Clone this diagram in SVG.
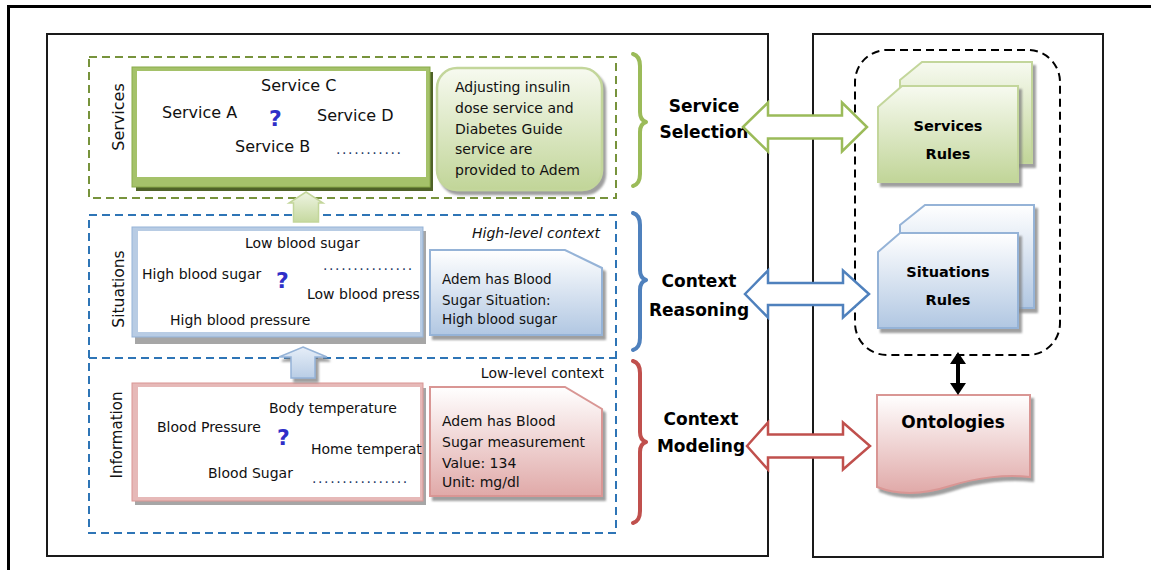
<svg xmlns="http://www.w3.org/2000/svg" width="1151" height="570" viewBox="0 0 1151 570">
<style>
.t{font-family:"DejaVu Sans",Verdana,sans-serif;fill:#111}
.s16{font-size:16px}
.s14{font-size:14px}
.s13{font-size:13.5px}
.b{font-family:"DejaVu Sans",Verdana,sans-serif;font-weight:bold;fill:#000}
.q{font-family:"DejaVu Sans",Verdana,sans-serif;font-weight:bold;font-size:22px;fill:#2f2fc8}
.dots{font-family:"DejaVu Sans",sans-serif;font-size:14px;fill:#1f3864;letter-spacing:1.6px}
.gd{fill:none;stroke:#77933c;stroke-width:2;stroke-dasharray:8 5}
.bd{fill:none;stroke:#2e75b6;stroke-width:2;stroke-dasharray:8 5}
.panel{fill:none;stroke:#1a1a1a;stroke-width:2}
.brace{fill:none;stroke-width:4;stroke-linecap:round;stroke-linejoin:round}
</style>
<defs>
<linearGradient id="gG" x1="0" y1="0" x2="0" y2="1"><stop offset="0" stop-color="#f7faf0"/><stop offset="1" stop-color="#c1d598"/></linearGradient>
<linearGradient id="gB" x1="0" y1="0" x2="0" y2="1"><stop offset="0" stop-color="#ffffff"/><stop offset="1" stop-color="#b1c7e2"/></linearGradient>
<linearGradient id="gR" x1="0" y1="0" x2="0" y2="1"><stop offset="0" stop-color="#ffffff"/><stop offset="1" stop-color="#e0a9a8"/></linearGradient>
<linearGradient id="gGa" x1="0" y1="0" x2="0" y2="1"><stop offset="0" stop-color="#eef4e2"/><stop offset="1" stop-color="#c6d9a0"/></linearGradient>
<linearGradient id="gBa" x1="0" y1="0" x2="0" y2="1"><stop offset="0" stop-color="#e6eef8"/><stop offset="1" stop-color="#b9cde5"/></linearGradient>
<filter id="sh" x="-10%" y="-10%" width="130%" height="130%"><feDropShadow dx="3" dy="4" stdDeviation="1.2" flood-color="#7f7f7f" flood-opacity="0.75"/></filter>
</defs>

<rect x="8.5" y="6.5" width="1160" height="580" fill="none" stroke="#000" stroke-width="3"/>

<g id="left-panel"><rect class="panel" x="47" y="34" width="721" height="522"/></g>
<g id="right-panel"><rect class="panel" x="813" y="34" width="290" height="523"/></g>

<g id="services-layer">
<rect class="gd" x="89" y="57" width="527" height="141"/>
<text class="t" font-size="16" fill="#333" transform="rotate(-90 124 117)" x="124" y="117" text-anchor="middle">Services</text>
<rect x="136" y="72" width="297" height="119" fill="#4f6228"/>
<rect x="132" y="67" width="298" height="120" fill="#a5c26a" stroke="#8aab4a" stroke-width="1"/>
<rect x="137" y="71" width="289" height="106" fill="#fff"/>
<text class="t s16" x="261" y="91">Service C</text>
<text class="t s16" x="162" y="118">Service A</text>
<text class="q" x="269" y="126">?</text>
<text class="t s16" x="317" y="121">Service D</text>
<text class="t s16" x="235" y="152">Service B</text>
<text class="dots" x="336" y="154">...........</text>
</g>

<g id="services-note">
<rect x="437" y="68" width="165" height="122" rx="20" fill="url(#gG)" stroke="#c3d69b" stroke-width="2.5" filter="url(#sh)"/>
<text class="t s14" x="455" y="92">Adjusting insulin</text>
<text class="t s14" x="455" y="113">dose service and</text>
<text class="t s14" x="455" y="134">Diabetes Guide</text>
<text class="t s14" x="455" y="154">service are</text>
<text class="t s14" x="455" y="175">provided to Adem</text>
</g>

<g id="situations-layer">
<path class="bd" d="M89,358 L89,215 L616,215 L616,358"/>
<text class="t" font-size="15.5" fill="#333" transform="rotate(-90 124 289)" x="124" y="289" text-anchor="middle">Situations</text>
<text class="t" font-size="14" font-style="italic" x="600" y="238" text-anchor="end">High-level context</text>
<rect x="135" y="231" width="291" height="113" fill="#a6a6a6"/>
<rect x="132" y="227" width="291" height="110" fill="#b8cce4" stroke="#95b3d7" stroke-width="1"/>
<rect x="138" y="231" width="282" height="101" fill="#fff"/>
<text class="t s14" x="245" y="248">Low blood sugar</text>
<text class="t s14" x="142" y="279">High blood sugar</text>
<text class="q" x="276" y="288">?</text>
<text class="dots" x="323" y="270">...............</text>
<text class="t s14" x="307" y="299">Low blood press</text>
<text class="t s14" x="170" y="325">High blood pressure</text>
</g>

<g id="situations-note">
<path d="M430,250 L565,250 L602,268 L602,335 L430,335 Z" fill="url(#gB)" stroke="#95b3d7" stroke-width="2" filter="url(#sh)"/>
<text class="t s13" x="442" y="284">Adem has Blood</text>
<text class="t s13" x="442" y="305">Sugar Situation:</text>
<text class="t s13" x="442" y="324">High blood sugar</text>
</g>

<g id="information-layer">
<rect class="bd" x="89" y="358" width="527" height="175"/>
<text class="t" font-size="15" fill="#333" transform="rotate(-90 122 435)" x="122" y="435" text-anchor="middle">Information</text>
<text class="t s14" x="604" y="378" text-anchor="end">Low-level context</text>
<rect x="135" y="388" width="291" height="117" fill="#a6a6a6"/>
<rect x="132" y="383" width="291" height="118" fill="#e6b9b8" stroke="#d99694" stroke-width="1"/>
<rect x="138" y="387" width="282" height="110" fill="#fff"/>
<text class="t s14" x="269" y="413">Body temperature</text>
<text class="t s14" x="157" y="432">Blood Pressure</text>
<text class="q" x="277" y="445">?</text>
<text class="t s14" x="311" y="454">Home temperat</text>
<text class="t s14" x="208" y="478">Blood Sugar</text>
<text class="dots" x="312" y="483">................</text>
</g>

<g id="information-note">
<path d="M430,387 L565,387 L602,409 L602,496 L430,496 Z" fill="url(#gR)" stroke="#d99694" stroke-width="2" filter="url(#sh)"/>
<text class="t s14" x="442" y="426">Adem has Blood</text>
<text class="t s14" x="442" y="447">Sugar measurement</text>
<text class="t s14" x="442" y="468">Value: 134</text>
<text class="t s14" x="442" y="487">Unit: mg/dl</text>
</g>

<g id="braces">
<path class="brace" stroke="#9bbb59" d="M633,54 Q640,56 640,66 L640,112 Q640,120 646,122 Q640,124 640,132 L640,174 Q640,184 633,186"/>
<path class="brace" stroke="#4f81bd" d="M633,213 Q640,215 640,225 L640,270 Q640,278 646,280 Q640,282 640,290 L640,338 Q640,348 633,350"/>
<path class="brace" stroke="#c0504d" d="M633,361 Q640,363 640,373 L640,432 Q640,440 646,442 Q640,444 640,452 L640,511 Q640,521 633,523"/>
</g>

<g id="labels">
<text class="b" font-size="17" x="704" y="112" text-anchor="middle">Service</text>
<text class="b" font-size="17" x="704" y="138" text-anchor="middle">Selection</text>
<text class="b" font-size="17" x="699" y="287" text-anchor="middle">Context</text>
<text class="b" font-size="17" x="699" y="316" text-anchor="middle">Reasoning</text>
<text class="b" font-size="17" x="701" y="425" text-anchor="middle">Context</text>
<text class="b" font-size="17" x="701" y="452" text-anchor="middle">Modeling</text>
</g>

<g id="rules-group">
<rect x="855" y="50" width="205" height="305" rx="32" fill="none" stroke="#000" stroke-width="2" stroke-dasharray="8 5"/>
</g>

<g id="services-rules">
<path d="M900,80 L922,62 L1032,62 L1032,163 L900,163 Z" fill="url(#gG)" stroke="#c3d69b" stroke-width="2" filter="url(#sh)"/>
<path d="M878,107 L902,86 L1018,86 L1018,182 L878,182 Z" fill="url(#gG)" stroke="#c3d69b" stroke-width="2" filter="url(#sh)"/>
<text class="b" font-size="14.5" x="948" y="131" text-anchor="middle">Services</text>
<text class="b" font-size="14.5" x="948" y="159" text-anchor="middle">Rules</text>
</g>

<g id="situations-rules">
<path d="M900,225 L925,205 L1034,205 L1034,308 L900,308 Z" fill="url(#gB)" stroke="#95b3d7" stroke-width="2" filter="url(#sh)"/>
<path d="M878,252 L900,233 L1018,233 L1018,328 L878,328 Z" fill="url(#gB)" stroke="#95b3d7" stroke-width="2" filter="url(#sh)"/>
<text class="b" font-size="14.5" x="948" y="277" text-anchor="middle">Situations</text>
<text class="b" font-size="14.5" x="948" y="305" text-anchor="middle">Rules</text>
</g>

<g id="ontologies">
<path d="M877,395 L1030,395 L1030,477 C1005,474 975,478 950,486 C925,494 900,496 877,487 Z" fill="url(#gR)" stroke="#d99694" stroke-width="2" filter="url(#sh)"/>
<text class="b" font-size="17" x="953" y="428" text-anchor="middle">Ontologies</text>
</g>

<g id="connectors">
<path d="M306,192 L323,203 L318.5,203 L318.5,222 L293.5,222 L293.5,203 L289,203 Z" fill="url(#gGa)" stroke="#c3d69b" stroke-width="1.5"/>
<path d="M303,347 L327,357 L315,357 L315,378 L291,378 L291,357 L279,357 Z" fill="url(#gBa)" stroke="#95b3d7" stroke-width="1.5" filter="url(#sh)"/>
<path d="M743,127 L768,102.5 L768,115.5 L842,115.5 L842,102.5 L867,127 L842,151.5 L842,138.5 L768,138.5 L768,151.5 Z" fill="#fff" stroke="#9bbb59" stroke-width="2.5"/>
<path d="M745,294 L768,270.5 L768,283 L843,283 L843,270.5 L869,294 L843,317.5 L843,305 L768,305 L768,317.5 Z" fill="#fff" stroke="#4f81bd" stroke-width="2.5"/>
<path d="M747,446 L768,422.5 L768,434.5 L843,434.5 L843,422.5 L870,446 L843,469.5 L843,457.5 L768,457.5 L768,469.5 Z" fill="#fff" stroke="#c0504d" stroke-width="2.5"/>
<line x1="958" y1="360" x2="958" y2="387" stroke="#000" stroke-width="4"/>
<polygon points="958,352 950,364 966,364" fill="#000"/>
<polygon points="958,395 950,383 966,383" fill="#000"/>
</g>
</svg>
